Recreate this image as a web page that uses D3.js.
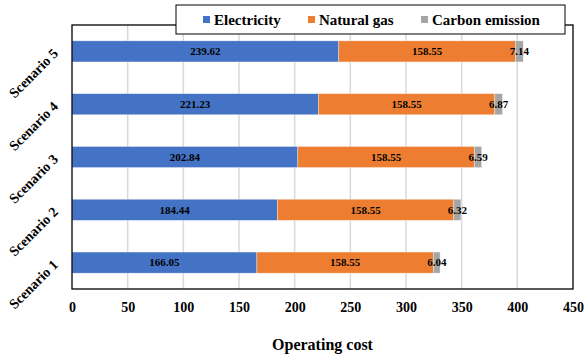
<!DOCTYPE html>
<html>
<head>
<meta charset="utf-8">
<script src="https://cdn.jsdelivr.net/npm/d3@7"></script>
<style>
  html, body { margin: 0; padding: 0; background: #fff; }
  svg text { font-family: "Times New Roman", "Liberation Serif", serif !important; font-weight: bold; fill: #000; }
</style>
</head>
<body>
<svg id="chart" width="584" height="360"></svg>
<script>
// Operating cost breakdown per scenario
const scenarios = ["Scenario 1", "Scenario 2", "Scenario 3", "Scenario 4", "Scenario 5"];
const electricity = [166.05, 184.44, 202.84, 221.23, 239.62];
const naturalGas = [158.55, 158.55, 158.55, 158.55, 158.55];
const carbonEmission = [6.04, 6.32, 6.59, 6.87, 7.14];
const seriesNames = ["Electricity", "Natural gas", "Carbon emission"];
const seriesColors = ["#4472C4", "#ED7D31", "#A5A5A5"];
const xTicks = [0, 50, 100, 150, 200, 250, 300, 350, 400, 450];

const svg = d3.select("#chart");
const plot = { left: 72, right: 573, top: 25, bottom: 289 };

const x = d3.scaleLinear().domain([0, 450]).range([plot.left, plot.right]);
const y = d3.scaleBand()
  .domain(scenarios.slice().reverse())
  .range([plot.top, plot.bottom])
  .paddingInner(0.6).paddingOuter(0.3);

const rows = scenarios.map((s, i) => ({
  scenario: s,
  "Electricity": electricity[i],
  "Natural gas": naturalGas[i],
  "Carbon emission": carbonEmission[i]
}));
const stacked = d3.stack().keys(seriesNames)(rows);

// vertical gridlines
svg.append("g").selectAll("line")
  .data(xTicks.filter(t => t > 0 && t < 450))
  .join("line")
  .attr("x1", d => x(d)).attr("x2", d => x(d))
  .attr("y1", plot.top).attr("y2", plot.bottom)
  .attr("stroke", "#d9d9d9").attr("stroke-width", 1.5);

// stacked bars
const layers = svg.append("g").selectAll("g")
  .data(stacked)
  .join("g")
  .attr("fill", (d, i) => seriesColors[i]);

layers.selectAll("rect")
  .data(d => d)
  .join("rect")
  .attr("x", d => x(d[0]))
  .attr("width", d => x(d[1]) - x(d[0]))
  .attr("y", d => y(d.data.scenario))
  .attr("height", y.bandwidth())
  .attr("stroke", "rgba(255,255,255,0.6)")
  .attr("stroke-width", 0.6);

// value labels centred on each segment
layers.selectAll("text")
  .data(d => d.map(v => ({ v, key: d.key })))
  .join("text")
  .attr("x", d => x((d.v[0] + d.v[1]) / 2))
  .attr("y", d => y(d.v.data.scenario) + y.bandwidth() / 2)
  .attr("dy", "0.35em")
  .attr("text-anchor", "middle")
  .attr("font-size", 11)
  .text(d => d.v.data[d.key].toFixed(2));

// plot frame
svg.append("rect")
  .attr("x", plot.left).attr("y", plot.top)
  .attr("width", plot.right - plot.left).attr("height", plot.bottom - plot.top)
  .attr("fill", "none").attr("stroke", "#000").attr("stroke-width", 1.3);

// x axis tick labels
const xAxis = d3.axisBottom(x).tickValues(xTicks).tickSize(0).tickPadding(13);
const gx = svg.append("g").attr("transform", `translate(0,${plot.bottom})`).call(xAxis);
gx.attr("font-family", null);
gx.select(".domain").remove();
gx.selectAll("text").attr("font-size", 14);

// y axis labels, rotated
svg.append("g").selectAll("text")
  .data(scenarios)
  .join("text")
  .attr("text-anchor", "end")
  .attr("font-size", 14)
  .attr("transform", d => `translate(59,${y(d) + y.bandwidth() / 2 + 3}) rotate(-45)`)
  .text(d => d);

// axis title
svg.append("text")
  .attr("x", (plot.left + plot.right) / 2)
  .attr("y", 350)
  .attr("text-anchor", "middle")
  .attr("font-size", 16)
  .text("Operating cost");

// legend
const legend = svg.append("g");
legend.append("rect")
  .attr("x", 176).attr("y", 5).attr("width", 389).attr("height", 29)
  .attr("fill", "#fff").attr("stroke", "#000").attr("stroke-width", 1);
const legendX = [203, 308, 421];
const items = legend.selectAll("g.item")
  .data(seriesNames)
  .join("g")
  .attr("class", "item")
  .attr("transform", (d, i) => `translate(${legendX[i]},20)`);
items.append("rect")
  .attr("x", 0).attr("y", -4).attr("width", 7).attr("height", 7)
  .attr("fill", (d, i) => seriesColors[i]);
items.append("text")
  .attr("x", 11).attr("dy", "0.35em")
  .attr("font-size", 15)
  .text(d => d);
</script>
</body>
</html>
